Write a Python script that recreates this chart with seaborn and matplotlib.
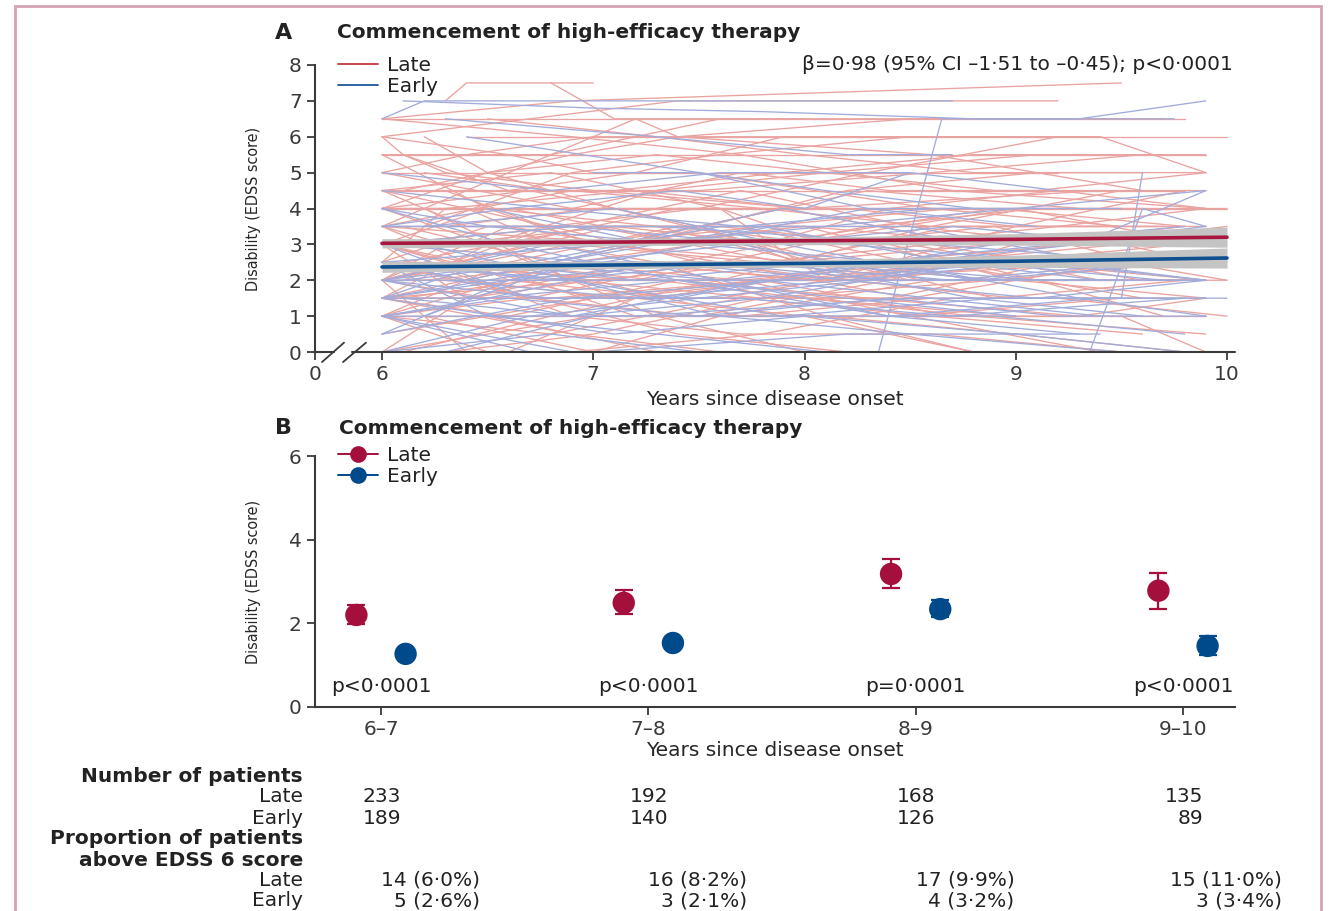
import numpy as np
import pandas as pd
import matplotlib
matplotlib.use("Agg")
import matplotlib.pyplot as plt
import seaborn as sns
from matplotlib.lines import Line2D
from matplotlib.patches import Rectangle
from matplotlib.transforms import blended_transform_factory

# ---- data ----
# Panel A: individual EDSS trajectories, (years since onset, EDSS)
late_paths = [
    [(6.0, 6.5), (9.8, 6.5)],
    [(6.3, 7.0), (6.4, 7.5), (7.0, 7.5)],
    [(6.0, 6.5), (6.9, 7.0), (9.5, 7.5)],
    [(6.0, 6.0), (6.1, 5.5), (6.3, 5.0), (7.0, 4.5), (8.0, 4.0)],
    [(6.4, 6.0), (10.0, 6.0)],
    [(6.0, 5.5), (8.2, 5.5), (9.9, 5.5)],
    [(6.0, 5.0), (7.4, 5.0), (8.0, 5.0), (9.2, 5.0)],
    [(6.0, 4.5), (9.8, 4.5)],
    [(6.0, 4.0), (7.0, 4.0), (10.0, 4.0)],
    [(6.2, 6.0), (6.5, 5.0), (7.1, 4.0), (7.8, 3.0), (8.5, 2.0)],
    [(6.0, 3.5), (6.6, 5.0), (7.2, 6.5), (7.4, 6.0), (8.6, 5.5), (9.6, 4.5)],
    [(6.0, 4.0), (6.5, 3.0), (7.3, 1.0), (8.0, 0.0)],
    [(6.1, 2.0), (6.8, 3.5), (7.5, 4.0), (8.3, 5.0), (9.2, 6.0)],
    [(6.0, 3.0), (7.0, 3.0), (8.0, 2.5), (9.0, 2.5), (9.9, 2.0)],
    [(6.0, 2.0), (6.9, 2.0), (7.8, 1.5), (9.2, 1.5), (10.0, 1.0)],
    [(6.0, 1.5), (7.0, 2.0), (8.0, 2.0), (9.5, 2.5)],
    [(6.0, 1.0), (8.0, 1.0), (9.9, 1.0)],
    [(6.0, 2.5), (6.7, 1.5), (7.5, 1.0), (8.4, 2.0), (9.0, 3.0)],
    [(6.1, 0.0), (6.8, 1.0), (7.6, 2.0), (8.6, 3.5), (9.7, 3.5)],
    [(6.0, 3.5), (7.2, 3.0), (8.0, 3.5), (9.0, 3.0), (9.8, 3.5)],
    [(6.2, 4.0), (6.9, 2.0), (7.7, 2.0), (8.5, 1.0), (9.4, 0.0)],
    [(6.0, 1.0), (6.6, 2.5), (7.4, 3.5), (8.1, 3.0)],
    [(6.3, 0.0), (7.0, 0.5), (7.8, 1.5), (8.9, 2.0), (9.9, 2.0)],
    [(6.0, 2.0), (6.4, 0.0)],
    [(6.0, 5.0), (6.9, 4.0), (7.7, 5.0), (8.4, 4.5), (9.1, 4.5), (9.9, 5.0)],
    [(6.6, 0.0), (7.2, 1.5), (8.0, 1.0), (8.8, 0.0)],
    [(6.0, 3.0), (6.5, 4.0), (7.0, 3.0), (7.5, 3.5), (8.2, 2.0), (9.0, 1.5)],
    [(6.0, 1.5), (7.3, 1.5), (8.3, 2.5), (9.3, 3.0), (10.0, 3.5)],
    [(6.0, 2.5), (7.0, 2.5), (8.7, 2.5), (9.8, 2.5)],
    [(6.0, 3.5), (9.7, 3.5)],
    [(6.1, 5.5), (6.6, 4.5), (7.2, 5.0), (7.9, 6.0), (8.9, 6.0)],
    [(6.0, 4.5), (6.8, 5.0), (7.6, 4.0), (8.1, 3.0), (8.9, 3.5), (9.6, 2.5)],
    [(6.0, 2.0), (6.5, 2.5), (7.3, 2.0), (8.0, 1.5), (8.8, 1.0), (9.9, 0.5)],
    [(6.2, 1.0), (7.0, 0.0)],
    [(6.0, 0.0), (7.0, 1.0), (8.5, 1.0), (9.5, 1.5)],
    [(6.0, 3.0), (6.8, 2.0), (7.4, 2.5), (8.3, 3.5), (9.1, 4.0), (10.0, 4.0)],
    [(6.5, 6.5), (7.3, 6.0), (8.0, 5.5), (8.8, 5.0), (9.6, 5.0)],
    [(6.0, 6.0), (6.6, 5.5), (7.0, 5.0), (7.5, 5.0), (8.6, 4.0), (9.5, 3.5)],
    [(6.0, 1.5), (6.5, 3.0), (7.1, 3.0), (7.9, 4.0), (8.7, 4.0)],
    [(6.4, 2.0), (7.4, 0.5), (8.2, 0.0)],
    [(6.0, 4.0), (7.6, 4.0), (8.1, 2.0), (9.0, 2.0), (9.9, 1.5)],
    [(6.0, 2.5), (6.3, 4.0), (7.2, 4.5), (8.0, 4.0), (9.4, 4.5)],
    [(6.0, 1.0), (6.7, 1.5), (7.5, 2.5), (8.2, 2.5), (8.9, 1.5), (9.8, 2.0)],
    [(6.1, 3.0), (7.8, 3.0), (8.4, 4.0), (9.2, 4.5), (9.9, 4.0)],
    [(6.0, 2.0), (7.1, 3.5), (8.0, 3.5), (9.0, 2.0), (9.8, 2.0)],
    [(6.0, 0.0), (6.4, 1.5), (7.0, 2.0), (7.7, 1.0), (8.6, 1.5)],
    [(6.8, 7.5), (7.1, 6.5), (8.0, 6.5)],
    [(6.0, 5.0), (6.4, 5.5), (7.0, 6.0), (7.6, 6.0), (8.4, 6.0), (9.4, 6.0)],
    [(6.0, 3.5), (6.6, 2.0), (7.4, 1.5), (8.4, 1.5), (9.2, 2.5), (10.0, 2.5)],
    [(6.0, 4.5), (6.4, 3.5), (7.0, 3.5), (7.9, 2.5), (8.9, 3.0), (9.7, 3.0)],
    [(6.2, 2.5), (6.9, 1.0), (7.7, 0.5), (8.6, 0.5), (9.5, 0.0)],
    [(6.0, 1.5), (6.6, 1.0), (7.4, 2.0), (8.3, 1.5), (9.3, 1.0), (9.9, 1.5)],
    [(7.0, 0.0), (7.6, 1.0), (8.6, 2.0), (9.5, 2.0), (10.0, 2.0)],
    [(6.0, 3.0), (6.3, 2.5), (7.0, 2.0), (7.9, 2.5), (8.7, 3.5), (9.4, 3.5)],
    [(6.0, 2.0), (6.7, 3.0), (7.8, 3.0), (8.9, 4.0), (9.8, 3.5)],
    [(6.1, 4.5), (6.9, 5.5), (7.4, 6.0), (8.5, 6.5), (9.5, 6.5)],
    [(6.0, 6.5), (6.9, 6.0), (7.7, 5.5), (8.7, 4.5), (9.9, 4.0)],
    [(6.0, 4.0), (6.4, 4.0), (6.8, 3.0), (7.3, 2.5), (8.1, 1.0), (8.8, 0.0)],
    [(6.5, 1.0), (7.3, 0.0)],
    [(6.0, 2.0), (7.5, 2.0), (8.5, 2.0), (9.9, 2.0)],
    [(6.0, 1.0), (6.9, 2.5), (7.5, 3.0), (8.4, 3.0), (9.1, 2.0), (9.7, 1.0)],
    [(6.2, 5.0), (6.8, 4.5), (7.5, 4.5), (8.6, 5.0), (9.6, 5.5)],
    [(6.0, 3.0), (6.9, 3.5), (7.7, 4.5), (8.5, 3.5), (9.3, 3.0), (10.0, 3.0)],
    [(6.0, 2.5), (6.4, 2.0), (7.1, 1.5), (7.9, 2.0), (8.8, 2.5)],
    [(6.0, 1.5), (6.9, 0.5), (7.6, 0.0)],
    [(6.3, 3.5), (7.0, 4.0), (7.9, 4.0), (8.8, 3.0), (9.5, 3.0), (9.9, 2.5)],
    [(6.0, 0.5), (7.0, 1.5), (7.8, 2.0), (8.7, 1.0), (9.5, 1.0), (9.9, 0.0)],
    [(6.0, 5.5), (6.5, 4.0), (7.3, 3.5), (8.0, 2.5), (8.9, 2.0), (9.8, 2.5)],
    [(6.0, 2.0), (6.5, 1.5), (7.6, 1.5), (8.6, 2.5), (9.6, 1.5)],
    [(6.0, 3.5), (6.3, 3.0), (7.1, 3.5), (7.9, 3.0), (9.0, 4.0), (9.9, 3.0)],
    [(6.1, 1.5), (6.7, 2.0), (7.2, 1.0), (8.1, 1.0), (9.0, 0.5), (9.8, 0.0)],
    [(6.0, 4.5), (6.8, 3.5), (7.5, 2.5), (8.2, 2.0), (9.2, 3.0)],
    [(6.0, 2.5), (7.2, 2.0), (8.0, 3.0), (8.8, 3.0), (9.9, 3.0)],
    [(6.0, 1.0), (6.5, 0.0)],
    [(6.6, 4.0), (7.5, 3.0), (8.5, 3.0), (9.4, 2.0), (9.9, 2.0)],
    [(6.0, 0.0), (6.9, 0.0), (7.8, 0.5), (8.7, 1.5), (9.8, 1.5)],
    [(6.0, 3.0), (7.0, 1.5), (8.0, 1.5), (9.0, 1.0)],
    [(6.0, 2.0), (6.6, 3.5), (7.6, 2.5), (8.5, 1.5), (9.5, 2.5), (10.0, 2.0)],
    [(6.2, 3.5), (6.9, 5.0), (7.6, 5.5), (8.5, 6.0), (9.4, 6.0), (9.9, 5.0)],
    [(6.0, 1.5), (6.8, 1.5), (7.8, 2.0), (8.8, 2.0), (9.7, 2.0)],
    [(6.0, 4.0), (6.7, 4.5), (7.5, 3.5), (8.3, 4.5), (9.3, 4.0)],
    [(6.0, 3.0), (6.6, 3.0), (7.4, 4.0), (8.2, 4.0), (9.0, 3.5), (9.9, 3.5)],
    [(6.1, 2.5), (7.0, 3.5), (7.7, 3.5), (8.5, 2.5), (9.4, 2.5)],
    [(6.0, 4.5), (7.1, 4.5), (7.9, 5.0), (8.8, 5.5), (9.7, 5.5)],
    [(6.0, 1.5), (6.8, 2.5), (7.6, 3.5), (8.4, 3.0), (9.2, 3.5), (9.9, 4.0)],
    [(6.3, 4.5), (7.0, 3.0), (7.8, 3.5), (8.7, 4.0), (9.6, 4.0)],
    [(6.0, 3.5), (6.9, 4.5), (7.8, 4.0), (8.6, 3.5), (9.5, 4.5)],
    [(6.0, 2.5), (6.5, 3.5), (7.5, 3.5), (8.3, 2.0), (9.1, 2.5), (9.9, 2.5)],
    [(6.0, 5.5), (6.8, 5.5), (7.6, 6.5), (8.4, 6.5), (9.7, 6.5)],
    [(6.2, 2.0), (7.1, 2.5), (8.1, 2.0), (9.0, 3.5), (9.8, 4.5)],
    [(6.0, 3.0), (6.4, 1.5), (7.2, 2.5), (8.0, 2.0), (8.9, 2.5), (9.8, 3.0)],
    [(6.0, 2.0), (6.9, 3.0), (7.8, 2.5), (8.6, 3.0), (9.6, 2.0)],
    [(6.5, 3.0), (7.3, 4.5), (8.1, 5.0), (8.9, 4.5), (9.9, 4.5)],
    [(6.0, 1.0), (6.8, 0.5), (7.7, 1.5), (8.6, 1.0), (9.6, 0.5)],
    [(6.0, 4.0), (6.5, 5.0), (7.3, 5.5), (8.1, 5.0), (9.1, 5.5), (9.9, 5.5)],
    [(6.0, 6.0), (6.7, 6.5), (7.4, 7.0), (8.3, 7.0), (9.2, 7.0)],
    [(6.1, 3.5), (6.8, 2.5), (7.7, 2.0), (8.6, 2.5), (9.5, 3.0)],
    [(6.0, 2.0), (6.3, 3.0), (7.2, 3.0), (8.2, 4.5), (9.1, 5.0), (9.9, 5.0)],
]

early_paths = [
    [(6.0, 6.5), (6.2, 7.0), (8.7, 7.0)],
    [(6.1, 7.0), (7.0, 6.8), (7.8, 6.7), (8.8, 6.5), (9.3, 6.5), (9.9, 7.0)],
    [(6.3, 6.5), (7.3, 6.0), (8.2, 5.5), (8.7, 5.5)],
    [(6.0, 3.5), (7.0, 3.5), (8.0, 3.5)],
    [(6.0, 1.0), (7.2, 1.0), (8.5, 1.5), (9.5, 1.5), (9.6, 5.0)],
    [(6.0, 2.0), (6.8, 3.0), (7.6, 2.0), (8.4, 1.0), (9.3, 0.5)],
    [(6.0, 0.0), (6.7, 1.0), (7.5, 1.5), (8.3, 2.0), (9.0, 2.0), (9.8, 2.0)],
    [(6.0, 1.5), (6.5, 2.5), (7.2, 2.0), (8.1, 2.5), (9.1, 2.0)],
    [(6.2, 3.0), (6.9, 2.0), (7.6, 1.0), (8.5, 0.5), (9.5, 0.0)],
    [(6.0, 2.5), (7.1, 3.0), (7.9, 4.0), (8.8, 3.0), (9.7, 3.0)],
    [(6.0, 4.0), (6.6, 3.0), (7.4, 2.0), (8.2, 1.5), (9.0, 1.0)],
    [(6.0, 1.0), (6.9, 0.0)],
    [(6.3, 0.0), (7.0, 1.0), (7.9, 1.0), (8.9, 1.5), (9.9, 1.5)],
    [(6.0, 2.0), (7.0, 2.0), (8.0, 2.0), (9.0, 2.5), (9.8, 2.5)],
    [(6.0, 5.0), (6.8, 4.5), (7.6, 5.0), (8.5, 5.0), (9.2, 4.5)],
    [(6.0, 3.0), (6.7, 1.5), (7.4, 1.5), (8.3, 2.5), (9.2, 3.0), (9.9, 3.5)],
    [(6.1, 1.5), (6.9, 1.0), (7.8, 2.0), (8.6, 1.5), (9.4, 1.0)],
    [(6.0, 0.5), (6.6, 2.0), (7.5, 2.5), (8.4, 2.0), (9.3, 2.0)],
    [(6.0, 2.5), (6.5, 1.0), (7.3, 0.5), (8.1, 0.0)],
    [(6.5, 4.0), (7.3, 3.0), (8.2, 3.0), (9.2, 2.5), (9.9, 2.0)],
    [(6.0, 1.5), (7.0, 2.5), (7.9, 2.5), (8.8, 1.5), (9.6, 1.0)],
    [(6.0, 3.5), (6.6, 4.0), (7.4, 4.5), (8.0, 4.0), (8.5, 5.0)],
    [(8.35, 0.0), (8.65, 6.5), (9.3, 6.5), (9.75, 6.5)],
    [(6.0, 2.0), (6.8, 1.5), (7.7, 1.5), (8.7, 1.0), (9.8, 1.5)],
    [(6.2, 1.0), (6.9, 2.5), (7.7, 3.0), (8.6, 2.0), (9.5, 2.0)],
    [(6.0, 0.0), (6.8, 0.5), (7.5, 0.0)],
    [(6.0, 2.5), (6.4, 2.0), (7.2, 3.0), (8.1, 3.5), (9.0, 4.0), (9.9, 4.5)],
    [(6.0, 1.0), (6.6, 1.5), (7.5, 1.0), (8.4, 1.5), (9.2, 1.0), (9.9, 1.0)],
    [(6.1, 2.0), (6.8, 2.5), (7.8, 3.5), (8.7, 2.5), (9.4, 2.0)],
    [(6.0, 1.5), (7.1, 0.5), (8.0, 1.0), (9.0, 0.5), (9.8, 0.0)],
    [(9.35, 0.0), (9.6, 4.0), (9.9, 3.5)],
    [(6.0, 3.0), (7.0, 2.5), (8.0, 2.5), (8.9, 2.0), (9.9, 2.0)],
    [(6.3, 2.0), (7.2, 1.5), (8.2, 2.0), (9.1, 1.5), (9.9, 2.0)],
    [(6.0, 0.5), (6.9, 1.5), (7.9, 2.0), (8.9, 3.0), (9.8, 3.5)],
    [(6.0, 4.0), (6.5, 3.5), (7.4, 3.0), (8.3, 4.0), (9.0, 4.0)],
    [(6.0, 1.0), (6.7, 0.0)],
    [(6.4, 6.0), (7.5, 5.0), (8.3, 4.0), (9.1, 3.5)],
    [(6.0, 2.0), (6.9, 1.0), (7.8, 1.5), (8.8, 2.5), (9.7, 2.0)],
    [(6.0, 1.5), (6.5, 1.5), (7.4, 2.0), (8.4, 1.0), (9.4, 1.5), (10.0, 1.5)],
    [(6.6, 2.5), (7.6, 2.0), (8.5, 2.5), (9.3, 3.0), (9.9, 4.5)],
    [(6.0, 3.5), (7.3, 3.5), (8.6, 3.0), (9.7, 2.5)],
    [(6.0, 0.0), (7.0, 0.0), (8.2, 0.5), (9.4, 0.5)],
    [(6.0, 2.5), (6.8, 2.0), (7.7, 2.5), (8.7, 2.0), (9.6, 2.5)],
    [(7.0, 5.0), (7.5, 5.0), (8.1, 4.5), (8.8, 4.0)],
    [(6.0, 1.0), (6.5, 1.5), (7.3, 2.5), (8.2, 2.0), (9.1, 2.5), (9.9, 2.0)],
    [(6.0, 3.0), (6.9, 3.5), (7.8, 3.0), (8.7, 3.5), (9.6, 3.0)],
    [(6.0, 2.0), (6.7, 2.5), (7.6, 3.5), (8.5, 3.5), (9.4, 2.5)],
    [(6.2, 3.5), (7.1, 4.0), (7.9, 3.0), (8.8, 2.0), (9.8, 2.5)],
    [(6.0, 1.5), (6.6, 2.0), (7.5, 3.0), (8.4, 2.5), (9.3, 1.5), (9.9, 1.0)],
    [(6.0, 4.5), (6.8, 4.0), (7.7, 3.5), (8.6, 4.0), (9.5, 4.0)],
    [(6.0, 2.5), (6.9, 2.0), (7.9, 1.0), (8.9, 1.0), (9.8, 0.5)],
]

# Panel A: model fit lines with 95% CI band
fit_years = [6, 7, 8, 9, 10]
late_fit = [3.03, 3.06, 3.10, 3.14, 3.20]
late_lo = [2.90, 2.96, 3.00, 2.98, 2.92]
late_hi = [3.16, 3.16, 3.20, 3.30, 3.48]
early_fit = [2.37, 2.42, 2.47, 2.53, 2.62]
early_lo = [2.22, 2.32, 2.37, 2.36, 2.34]
early_hi = [2.52, 2.52, 2.57, 2.70, 2.90]

# Panel B: mean EDSS per interval with 95% CI
intervals = ["6–7", "7–8", "8–9", "9–10"]
late_mean = [2.20, 2.49, 3.18, 2.78]
late_ci_lo = [1.99, 2.22, 2.85, 2.34]
late_ci_hi = [2.44, 2.80, 3.54, 3.21]
early_mean = [1.27, 1.53, 2.34, 1.46]
early_ci_lo = [1.19, 1.42, 2.16, 1.25]
early_ci_hi = [1.36, 1.64, 2.56, 1.70]
p_values = ["p<0·0001", "p<0·0001", "p=0·0001", "p<0·0001"]

# table under panel B
n_late = ["233", "192", "168", "135"]
n_early = ["189", "140", "126", "89"]
above6_late = ["14 (6·0%)", "16 (8·2%)", "17 (9·9%)", "15 (11·0%)"]
above6_early = ["5 (2·6%)", "3 (2·1%)", "4 (3·2%)", "3 (3·4%)"]

# ---- style ----
LATE_LIGHT = "#e9a3a0"
EARLY_LIGHT = "#a2acda"
LATE_DARK = "#a8173f"
EARLY_DARK = "#0e4f8f"
LATE_PT = "#a50f3c"
EARLY_PT = "#004a8c"
AX_COL = "#3a3a3a"
TXT = "#222222"
FS = 14.5

sns.set_theme(style="ticks")
plt.rcParams["font.family"] = ["DejaVu Sans"]
plt.rcParams["axes.edgecolor"] = AX_COL
plt.rcParams["xtick.color"] = AX_COL
plt.rcParams["ytick.color"] = AX_COL
plt.rcParams["text.color"] = TXT

W, H = 1332, 911
fig = plt.figure(figsize=(W / 100, H / 100), dpi=100)


def fx(px):
    return px / W


def fy(py):
    return 1 - py / H


YLAB = dict(fontsize=11.5, family=["DejaVu Sans"], fontstretch="condensed", labelpad=20)

# ================= Panel A =================
ax_a = fig.add_axes([fx(315), fy(352), fx(1235) - fx(315), fy(65) - fy(352)])

rows = []
for i, path in enumerate(late_paths):
    for t, v in path:
        rows.append(("Late", f"L{i}", t, v))
for i, path in enumerate(early_paths):
    for t, v in path:
        rows.append(("Early", f"E{i}", t, v))
df_a = pd.DataFrame(rows, columns=["group", "pid", "years", "edss"])

sns.lineplot(data=df_a, x="years", y="edss", hue="group", units="pid",
             estimator=None, sort=False, hue_order=["Late", "Early"],
             palette={"Late": LATE_LIGHT, "Early": EARLY_LIGHT},
             lw=0.95, legend=False, ax=ax_a)

ax_a.fill_between(fit_years, late_lo, late_hi, color="#c4c4c4", lw=0, zorder=3)
ax_a.fill_between(fit_years, early_lo, early_hi, color="#c4c4c4", lw=0, zorder=3)
df_fit = pd.DataFrame({
    "years": fit_years * 2,
    "edss": late_fit + early_fit,
    "group": ["Late"] * len(fit_years) + ["Early"] * len(fit_years),
})
sns.lineplot(data=df_fit, x="years", y="edss", hue="group",
             palette={"Late": LATE_DARK, "Early": EARLY_DARK},
             lw=2.6, legend=False, ax=ax_a, zorder=4)

x0 = 6 - (382 - 315) / 211.25
ax_a.set_xlim(x0, 10 + 8 / 211.25)
ax_a.set_ylim(0, 8)
ax_a.set_xticks([x0, 6, 7, 8, 9, 10])
ax_a.set_xticklabels(["0", "6", "7", "8", "9", "10"])
ax_a.set_yticks(range(0, 9))
ax_a.tick_params(labelsize=FS, length=6, width=1.3)
ax_a.set_xlabel("Years since disease onset", fontsize=FS, labelpad=4)
ax_a.set_ylabel("Disability (EDSS score)", **YLAB)
sns.despine(ax=ax_a)
ax_a.spines["left"].set_linewidth(1.5)
ax_a.spines["bottom"].set_visible(False)


# broken x axis
def px2x(px):
    return 6 + (px - 382) / 211.25


ax_a.plot([x0, px2x(334)], [0, 0], color=AX_COL, lw=1.5, clip_on=False, zorder=5)
ax_a.plot([px2x(352), 10 + 8 / 211.25], [0, 0], color=AX_COL, lw=1.5, clip_on=False, zorder=5)
for a, b in [(322, 344), (343, 366)]:
    ax_a.plot([px2x(a), px2x(b)], [-0.28, 0.26], color=AX_COL, lw=1.3, clip_on=False, zorder=5)

leg_a = [Line2D([], [], color="#c9444f", lw=1.4), Line2D([], [], color="#2f62a4", lw=1.4)]
fig.legend(leg_a, ["Late", "Early"], loc="upper left",
           bbox_to_anchor=(fx(338), fy(56)), frameon=False, fontsize=FS,
           handlelength=2.0, handletextpad=0.45, labelspacing=0.12,
           borderpad=0, borderaxespad=0)

fig.text(fx(275), fy(33), "A", fontsize=16, weight="bold", va="center")
fig.text(fx(337), fy(33), "Commencement of high-efficacy therapy", fontsize=14.5,
         weight="bold", va="center")
fig.text(fx(1233), fy(64), "β=0·98 (95% CI –1·51 to –0·45); p<0·0001",
         fontsize=FS, ha="right", va="center")

# ================= Panel B =================
ax_b = fig.add_axes([fx(315), fy(707), fx(1235) - fx(315), fy(456) - fy(707)])

pos = np.arange(len(intervals))
df_b = pd.DataFrame({
    "x": np.concatenate([pos - 0.092, pos + 0.092]),
    "mean": late_mean + early_mean,
    "lo": late_ci_lo + early_ci_lo,
    "hi": late_ci_hi + early_ci_hi,
    "group": ["Late"] * 4 + ["Early"] * 4,
})
for grp, col in [("Late", LATE_PT), ("Early", EARLY_PT)]:
    d = df_b[df_b["group"] == grp]
    ax_b.errorbar(d["x"], d["mean"], yerr=[d["mean"] - d["lo"], d["hi"] - d["mean"]],
                  fmt="none", ecolor=col, elinewidth=1.6, capsize=6.5, capthick=1.6)
sns.scatterplot(data=df_b, x="x", y="mean", hue="group",
                palette={"Late": LATE_PT, "Early": EARLY_PT},
                s=260, edgecolor="none", legend=False, ax=ax_b, zorder=3)

for i, p in enumerate(p_values):
    ax_b.text(i, 0.5, p, fontsize=FS, ha="center", va="center")

ax_b.set_xlim((315 - 381) / 267.33, (1235 - 381) / 267.33)
ax_b.set_ylim(0, 6)
ax_b.set_xticks(pos)
ax_b.set_xticklabels(intervals)
ax_b.set_yticks([0, 2, 4, 6])
ax_b.tick_params(labelsize=FS, length=6, width=1.3)
ax_b.set_xlabel("Years since disease onset", fontsize=FS, labelpad=1)
ax_b.set_ylabel("Disability (EDSS score)", **YLAB)
sns.despine(ax=ax_b)
for s in ["left", "bottom"]:
    ax_b.spines[s].set_linewidth(1.5)

leg_b = [Line2D([], [], color=LATE_PT, lw=1.4, marker="o", ms=12, mec="none"),
         Line2D([], [], color=EARLY_PT, lw=1.4, marker="o", ms=12, mec="none")]
fig.legend(leg_b, ["Late", "Early"], loc="upper left",
           bbox_to_anchor=(fx(338), fy(446)), frameon=False, fontsize=FS,
           handlelength=2.0, handletextpad=0.45, labelspacing=0.12,
           borderpad=0, borderaxespad=0)

fig.text(fx(275), fy(428), "B", fontsize=16, weight="bold", va="center")
fig.text(fx(339), fy(428), "Commencement of high-efficacy therapy", fontsize=14.5,
         weight="bold", va="center")

# ================= table =================
trans = blended_transform_factory(ax_b.transData, fig.transFigure)
row_y = [776, 797, 818, 839, 860, 880, 901]
left_labels = [("Number of patients", "bold"), ("Late", "normal"), ("Early", "normal"),
               ("Proportion of patients", "bold"), ("above EDSS 6 score", "bold"),
               ("Late", "normal"), ("Early", "normal")]
for (lab, wt), y in zip(left_labels, row_y):
    fig.text(fx(303), fy(y), lab, fontsize=FS, weight=wt, ha="right", va="center")

for i in range(len(intervals)):
    ax_b.text(i + 0.075, fy(row_y[1]), n_late[i], transform=trans, fontsize=FS,
              ha="right", va="center")
    ax_b.text(i + 0.075, fy(row_y[2]), n_early[i], transform=trans, fontsize=FS,
              ha="right", va="center")
    ax_b.text(i + 0.37, fy(row_y[5]), above6_late[i], transform=trans, fontsize=FS,
              ha="right", va="center")
    ax_b.text(i + 0.37, fy(row_y[6]), above6_early[i], transform=trans, fontsize=FS,
              ha="right", va="center")

# page frame
fig.patches.append(Rectangle((fx(15), -0.02), fx(1321) - fx(15), fy(6) + 0.02,
                             transform=fig.transFigure, fill=False,
                             edgecolor="#d6a2b5", lw=2))

fig.savefig("out.png", dpi=100)
